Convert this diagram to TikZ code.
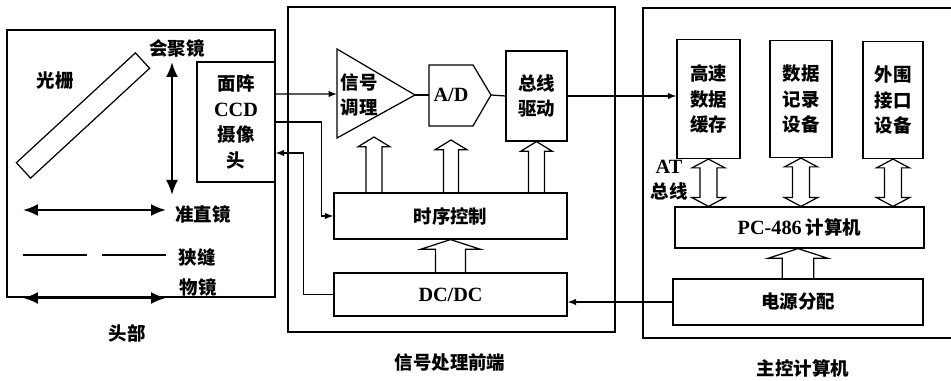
\documentclass[tikz,border=0pt]{standalone}
\usepackage{fontspec}
\setmainfont{Liberation Serif}
\newfontfamily\cjk{Noto Sans CJK SC}
\usetikzlibrary{arrows.meta,calc}

% hollow block arrows: start, tip, shaft half width, head half width
\newcommand{\hollowup}[4]{%
  \draw let \p1=#1, \p2=#2 in
    (\x1-#3,\y1) -- (\x1-#3,\y2-5.5pt) -- (\x1-#4,\y2-5.5pt) -- (\x1,\y2)
    -- (\x1+#4,\y2-5.5pt) -- (\x1+#3,\y2-5.5pt) -- (\x1+#3,\y1);}
\newcommand{\hollowboth}[4]{%
  \draw let \p1=#1, \p2=#2 in
    (\x1,\y1) -- (\x1+#4,\y1-5pt) -- (\x1+#3,\y1-5pt) -- (\x1+#3,\y2+5pt)
    -- (\x1+#4,\y2+5pt) -- (\x1,\y2) -- (\x1-#4,\y2+5pt) -- (\x1-#3,\y2+5pt)
    -- (\x1-#3,\y1-5pt) -- (\x1-#4,\y1-5pt) -- cycle;}

\begin{document}
\begin{tikzpicture}[x=0.02cm, y=-0.02cm, line width=0.7pt,
    every node/.style={font=\cjk\bfseries\fontsize{10.5}{14.5}\selectfont, align=center},
    box/.style={draw, inner sep=0pt},
    lat/.style={font=\rmfamily\bfseries\fontsize{11.5}{14.5}\selectfont},
    lens/.style={{Latex[length=3mm,width=2.4mm]}-{Latex[length=3mm,width=2.4mm]}, line width=1.3pt},
    >={Latex[length=1.7mm,width=1.3mm]}]
	\useasboundingbox (0,0) rectangle (951,381);
	% frames
	\draw (7,30) rectangle (275,297);
	\draw (288,7) rectangle (615,332);
	\draw (951,8) -- (643,8) -- (643,338) -- (951,338);
	% head
	\node[draw, rotate=42.7, minimum width=3.24cm, minimum height=0.42cm, inner sep=0pt] (grating) at (83,115.5) {};
	\node (gratinglbl) at (55,81) {光栅};
	\node (focuslbl) at (177,48) {会聚镜};
	\draw[lens] (172,62) -- (172,195);
	\draw[lens] (23,210) -- (166,210);
	\node (collimlbl) at (203,214) {准直镜};
	\draw (23,255) -- (87,255) (102,255) -- (166,255);
	\node (slitlbl) at (197,257) {狭缝};
	\draw[lens] (23,298) -- (166,298);
	\node (objlbl) at (198,287) {物镜};
	\node[box, minimum width=1.56cm, minimum height=2.4cm] (ccd) at (236,122) {面阵\\{\rmfamily\fontsize{11.5}{14.5}\selectfont CCD}\\摄像\\头};
	\node (headlbl) at (127,333) {头部};
	% signal front end
	\draw (337,49) -- (415,95) -- (337,138) -- cycle;
	\coordinate (triin) at (337,94);
	\coordinate (triout) at (415,95);
	\node (sig) at (359,95) {信号\\调理};
	\draw (429,65) -- (473,65) -- (491,95) -- (473,126) -- (429,126) -- cycle;
	\coordinate (adin) at (429,95);
	\coordinate (adout) at (491,95);
	\node[lat] (ad) at (451,95) {A/D};
	\node[box, minimum width=1.22cm, minimum height=1.8cm] (bus) at (536.5,96) {总线\\驱动};
	\node[box, minimum width=4.66cm, minimum height=0.92cm] (time) at (450.5,216) {时序控制};
	\node[box, lat, minimum width=4.66cm, minimum height=0.86cm] (dc) at (450.5,294.5) {DC/DC};
	\node (frontlbl) at (450,363) {信号处理前端};
	\draw[->] ([yshift=0.56cm]ccd.east) -- (triin);
	\draw (triout) -- (adin);
	\draw (adout) -- (bus.west);
	\draw[->] (ccd.east) -- ++(46,0) |- (time.west);
	\draw[->] (dc.west) -- ++(-30,0) |- ([yshift=-0.62cm]ccd.east);
	\coordinate (sigtip) at (374,137);
	\coordinate (adtip) at (451,140);
	\hollowup{(time.north -| sigtip)}{(sigtip)}{4.5pt}{9pt}
	\hollowup{(time.north -| adtip)}{(adtip)}{4.3pt}{9pt}
	\hollowup{(time.north -| bus.south)}{(bus.south)}{4.5pt}{9pt}
	\hollowup{(dc.north)}{(time.south)}{8.5pt}{17pt}
	% main computer
	\node[box, minimum width=1.26cm, minimum height=2.38cm] (cache) at (708.5,99) {高速\\数据\\缓存};
	\node[box, minimum width=1.24cm, minimum height=2.34cm] (rec) at (801,99) {数据\\记录\\设备};
	\node[box, minimum width=1.2cm, minimum height=2.34cm] (ifc) at (893,100) {外围\\接口\\设备};
	\node[box, minimum width=4.98cm, minimum height=0.82cm] (pc) at (799.5,227.5) {{\rmfamily\fontsize{11.5}{14.5}\selectfont PC-486} 计算机};
	\node[box, minimum width=5cm, minimum height=0.92cm] (pwr) at (798,302) {电源分配};
	\node (atlbl) at (669,180) {{\rmfamily\fontsize{11.5}{14.5}\selectfont AT}\\总线};
	\node (mainlbl) at (803,368) {主控计算机};
	\draw[->] (bus.east) -- (cache.west |- bus.east);
	\draw[->] (pwr.west) -- (dc.east |- pwr.west);
	\hollowboth{(cache.south)}{(pc.north -| cache.south)}{4.8pt}{9.4pt}
	\hollowboth{(rec.south)}{(pc.north -| rec.south)}{4.8pt}{9.4pt}
	\hollowboth{(ifc.south)}{(pc.north -| ifc.south)}{4.8pt}{9.4pt}
	\hollowup{(pwr.north)}{(pc.south -| pwr.north)}{9pt}{17pt}
\end{tikzpicture}
\end{document}
